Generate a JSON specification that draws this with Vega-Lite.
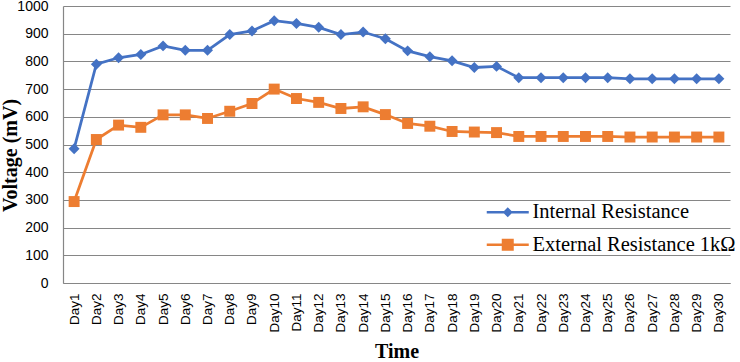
{
  "$schema": "https://vega.github.io/schema/vega-lite/v6.json",
  "width": 667,
  "height": 277,
  "autosize": "none",
  "padding": {"left": 63, "top": 6, "right": 10, "bottom": 79},
  "background": "white",
  "config": {"view": {"stroke": null}},
  "data": {"values": [
    {"day": "Day1", "series": "Internal Resistance", "voltage": 485},
    {"day": "Day2", "series": "Internal Resistance", "voltage": 790},
    {"day": "Day3", "series": "Internal Resistance", "voltage": 813},
    {"day": "Day4", "series": "Internal Resistance", "voltage": 825},
    {"day": "Day5", "series": "Internal Resistance", "voltage": 856},
    {"day": "Day6", "series": "Internal Resistance", "voltage": 840},
    {"day": "Day7", "series": "Internal Resistance", "voltage": 840},
    {"day": "Day8", "series": "Internal Resistance", "voltage": 897},
    {"day": "Day9", "series": "Internal Resistance", "voltage": 910},
    {"day": "Day10", "series": "Internal Resistance", "voltage": 947},
    {"day": "Day11", "series": "Internal Resistance", "voltage": 937},
    {"day": "Day12", "series": "Internal Resistance", "voltage": 923},
    {"day": "Day13", "series": "Internal Resistance", "voltage": 897},
    {"day": "Day14", "series": "Internal Resistance", "voltage": 906},
    {"day": "Day15", "series": "Internal Resistance", "voltage": 882},
    {"day": "Day16", "series": "Internal Resistance", "voltage": 838},
    {"day": "Day17", "series": "Internal Resistance", "voltage": 817},
    {"day": "Day18", "series": "Internal Resistance", "voltage": 802},
    {"day": "Day19", "series": "Internal Resistance", "voltage": 778},
    {"day": "Day20", "series": "Internal Resistance", "voltage": 782},
    {"day": "Day21", "series": "Internal Resistance", "voltage": 741},
    {"day": "Day22", "series": "Internal Resistance", "voltage": 741},
    {"day": "Day23", "series": "Internal Resistance", "voltage": 741},
    {"day": "Day24", "series": "Internal Resistance", "voltage": 741},
    {"day": "Day25", "series": "Internal Resistance", "voltage": 741},
    {"day": "Day26", "series": "Internal Resistance", "voltage": 737},
    {"day": "Day27", "series": "Internal Resistance", "voltage": 737},
    {"day": "Day28", "series": "Internal Resistance", "voltage": 737},
    {"day": "Day29", "series": "Internal Resistance", "voltage": 737},
    {"day": "Day30", "series": "Internal Resistance", "voltage": 737},
    {"day": "Day1", "series": "External Resistance 1kΩ", "voltage": 294},
    {"day": "Day2", "series": "External Resistance 1kΩ", "voltage": 518},
    {"day": "Day3", "series": "External Resistance 1kΩ", "voltage": 570},
    {"day": "Day4", "series": "External Resistance 1kΩ", "voltage": 562},
    {"day": "Day5", "series": "External Resistance 1kΩ", "voltage": 607},
    {"day": "Day6", "series": "External Resistance 1kΩ", "voltage": 607},
    {"day": "Day7", "series": "External Resistance 1kΩ", "voltage": 594},
    {"day": "Day8", "series": "External Resistance 1kΩ", "voltage": 620},
    {"day": "Day9", "series": "External Resistance 1kΩ", "voltage": 648},
    {"day": "Day10", "series": "External Resistance 1kΩ", "voltage": 700},
    {"day": "Day11", "series": "External Resistance 1kΩ", "voltage": 666},
    {"day": "Day12", "series": "External Resistance 1kΩ", "voltage": 652},
    {"day": "Day13", "series": "External Resistance 1kΩ", "voltage": 630},
    {"day": "Day14", "series": "External Resistance 1kΩ", "voltage": 636},
    {"day": "Day15", "series": "External Resistance 1kΩ", "voltage": 608},
    {"day": "Day16", "series": "External Resistance 1kΩ", "voltage": 576},
    {"day": "Day17", "series": "External Resistance 1kΩ", "voltage": 566},
    {"day": "Day18", "series": "External Resistance 1kΩ", "voltage": 547},
    {"day": "Day19", "series": "External Resistance 1kΩ", "voltage": 545},
    {"day": "Day20", "series": "External Resistance 1kΩ", "voltage": 543},
    {"day": "Day21", "series": "External Resistance 1kΩ", "voltage": 529},
    {"day": "Day22", "series": "External Resistance 1kΩ", "voltage": 529},
    {"day": "Day23", "series": "External Resistance 1kΩ", "voltage": 529},
    {"day": "Day24", "series": "External Resistance 1kΩ", "voltage": 529},
    {"day": "Day25", "series": "External Resistance 1kΩ", "voltage": 529},
    {"day": "Day26", "series": "External Resistance 1kΩ", "voltage": 527},
    {"day": "Day27", "series": "External Resistance 1kΩ", "voltage": 527},
    {"day": "Day28", "series": "External Resistance 1kΩ", "voltage": 527},
    {"day": "Day29", "series": "External Resistance 1kΩ", "voltage": 527},
    {"day": "Day30", "series": "External Resistance 1kΩ", "voltage": 527}
  ]},
  "encoding": {
    "x": {
      "field": "day", "type": "ordinal",
      "scale": {"type": "point", "padding": 0.5, "domain": ["Day1","Day2","Day3","Day4","Day5","Day6","Day7","Day8","Day9","Day10","Day11","Day12","Day13","Day14","Day15","Day16","Day17","Day18","Day19","Day20","Day21","Day22","Day23","Day24","Day25","Day26","Day27","Day28","Day29","Day30"]},
      "axis": {
        "title": "Time", "titleFont": "Liberation Serif", "titleFontSize": 20, "titleFontWeight": "bold", "titleColor": "#000",
        "titleY": 74, "titleBaseline": "alphabetic",
        "labelAngle": -90, "labelFont": "Liberation Sans", "labelFontSize": 13.5, "labelColor": "#000", "labelPadding": 10,
        "ticks": false, "grid": false, "domainColor": "#868686", "domainWidth": 1.2
      }
    },
    "y": {
      "field": "voltage", "type": "quantitative",
      "scale": {"domain": [0, 1000], "nice": false},
      "axis": {
        "values": [0,100,200,300,400,500,600,700,800,900,1000], "format": "d",
        "title": "Voltage (mV)", "titleFont": "Liberation Serif", "titleFontSize": 20, "titleFontWeight": "bold", "titleColor": "#000",
        "titleX": -43, "titleY": 149,
        "labelFont": "Liberation Sans", "labelFontSize": 14, "labelColor": "#000", "labelPadding": 15,
        "ticks": false, "grid": true, "gridColor": "#868686", "gridWidth": 1.2, "domainColor": "#868686", "domainWidth": 1.2,
        "encode": {"labels": {"update": {"dy": {"signal": "datum.value === 1000 ? 2 : 0"}}}}
      }
    }
  },
  "layer": [
    {
      "mark": {"type": "line", "strokeWidth": 2.75},
      "encoding": {
        "color": {"field": "series", "type": "nominal", "scale": {"domain": ["Internal Resistance", "External Resistance 1kΩ"], "range": ["#4472C4", "#ED7D31"]}, "legend": null}
      }
    },
    {
      "mark": {"type": "point", "filled": true, "opacity": 1, "size": 120},
      "encoding": {
        "color": {"field": "series", "type": "nominal", "scale": {"domain": ["Internal Resistance", "External Resistance 1kΩ"], "range": ["#4472C4", "#ED7D31"]}, "legend": null},
        "shape": {"field": "series", "type": "nominal", "scale": {"domain": ["Internal Resistance", "External Resistance 1kΩ"], "range": ["diamond", "square"]}, "legend": null}
      }
    },
    {
      "transform": [{"filter": "false"}],
      "mark": {"type": "point", "filled": true, "opacity": 1},
      "encoding": {
        "color": {"field": "series", "type": "nominal", "scale": {"domain": ["Internal Resistance", "External Resistance 1kΩ"], "range": ["#4472C4", "#ED7D31"]},
          "legend": {"orient": "none", "legendX": 434.5, "legendY": 196, "title": null, "symbolSize": 400, "symbolStrokeWidth": 0, "symbolOpacity": 1,
            "labelFont": "Liberation Serif", "labelFontSize": 20.5, "labelColor": "#000", "labelOffset": 14.5, "rowPadding": 11.5, "padding": 0, "labelLimit": 400}},
        "shape": {"field": "series", "type": "nominal",
          "scale": {"domain": ["Internal Resistance", "External Resistance 1kΩ"], "range": ["M-2.1,-0.13H2.1V0.13H-2.1Z M0,-0.5L0.5,0L0,0.5L-0.5,0Z", "M-2.1,-0.13H2.1V0.13H-2.1Z M-0.6,-0.6H0.6V0.6H-0.6Z"]},
          "legend": {"orient": "none", "legendX": 434.5, "legendY": 196, "title": null, "symbolSize": 400, "symbolStrokeWidth": 0, "symbolOpacity": 1,
            "labelFont": "Liberation Serif", "labelFontSize": 20.5, "labelColor": "#000", "labelOffset": 14.5, "rowPadding": 11.5, "padding": 0, "labelLimit": 400}}
      }
    }
  ],
  "resolve": {"scale": {"color": "independent", "shape": "independent"}}
}
